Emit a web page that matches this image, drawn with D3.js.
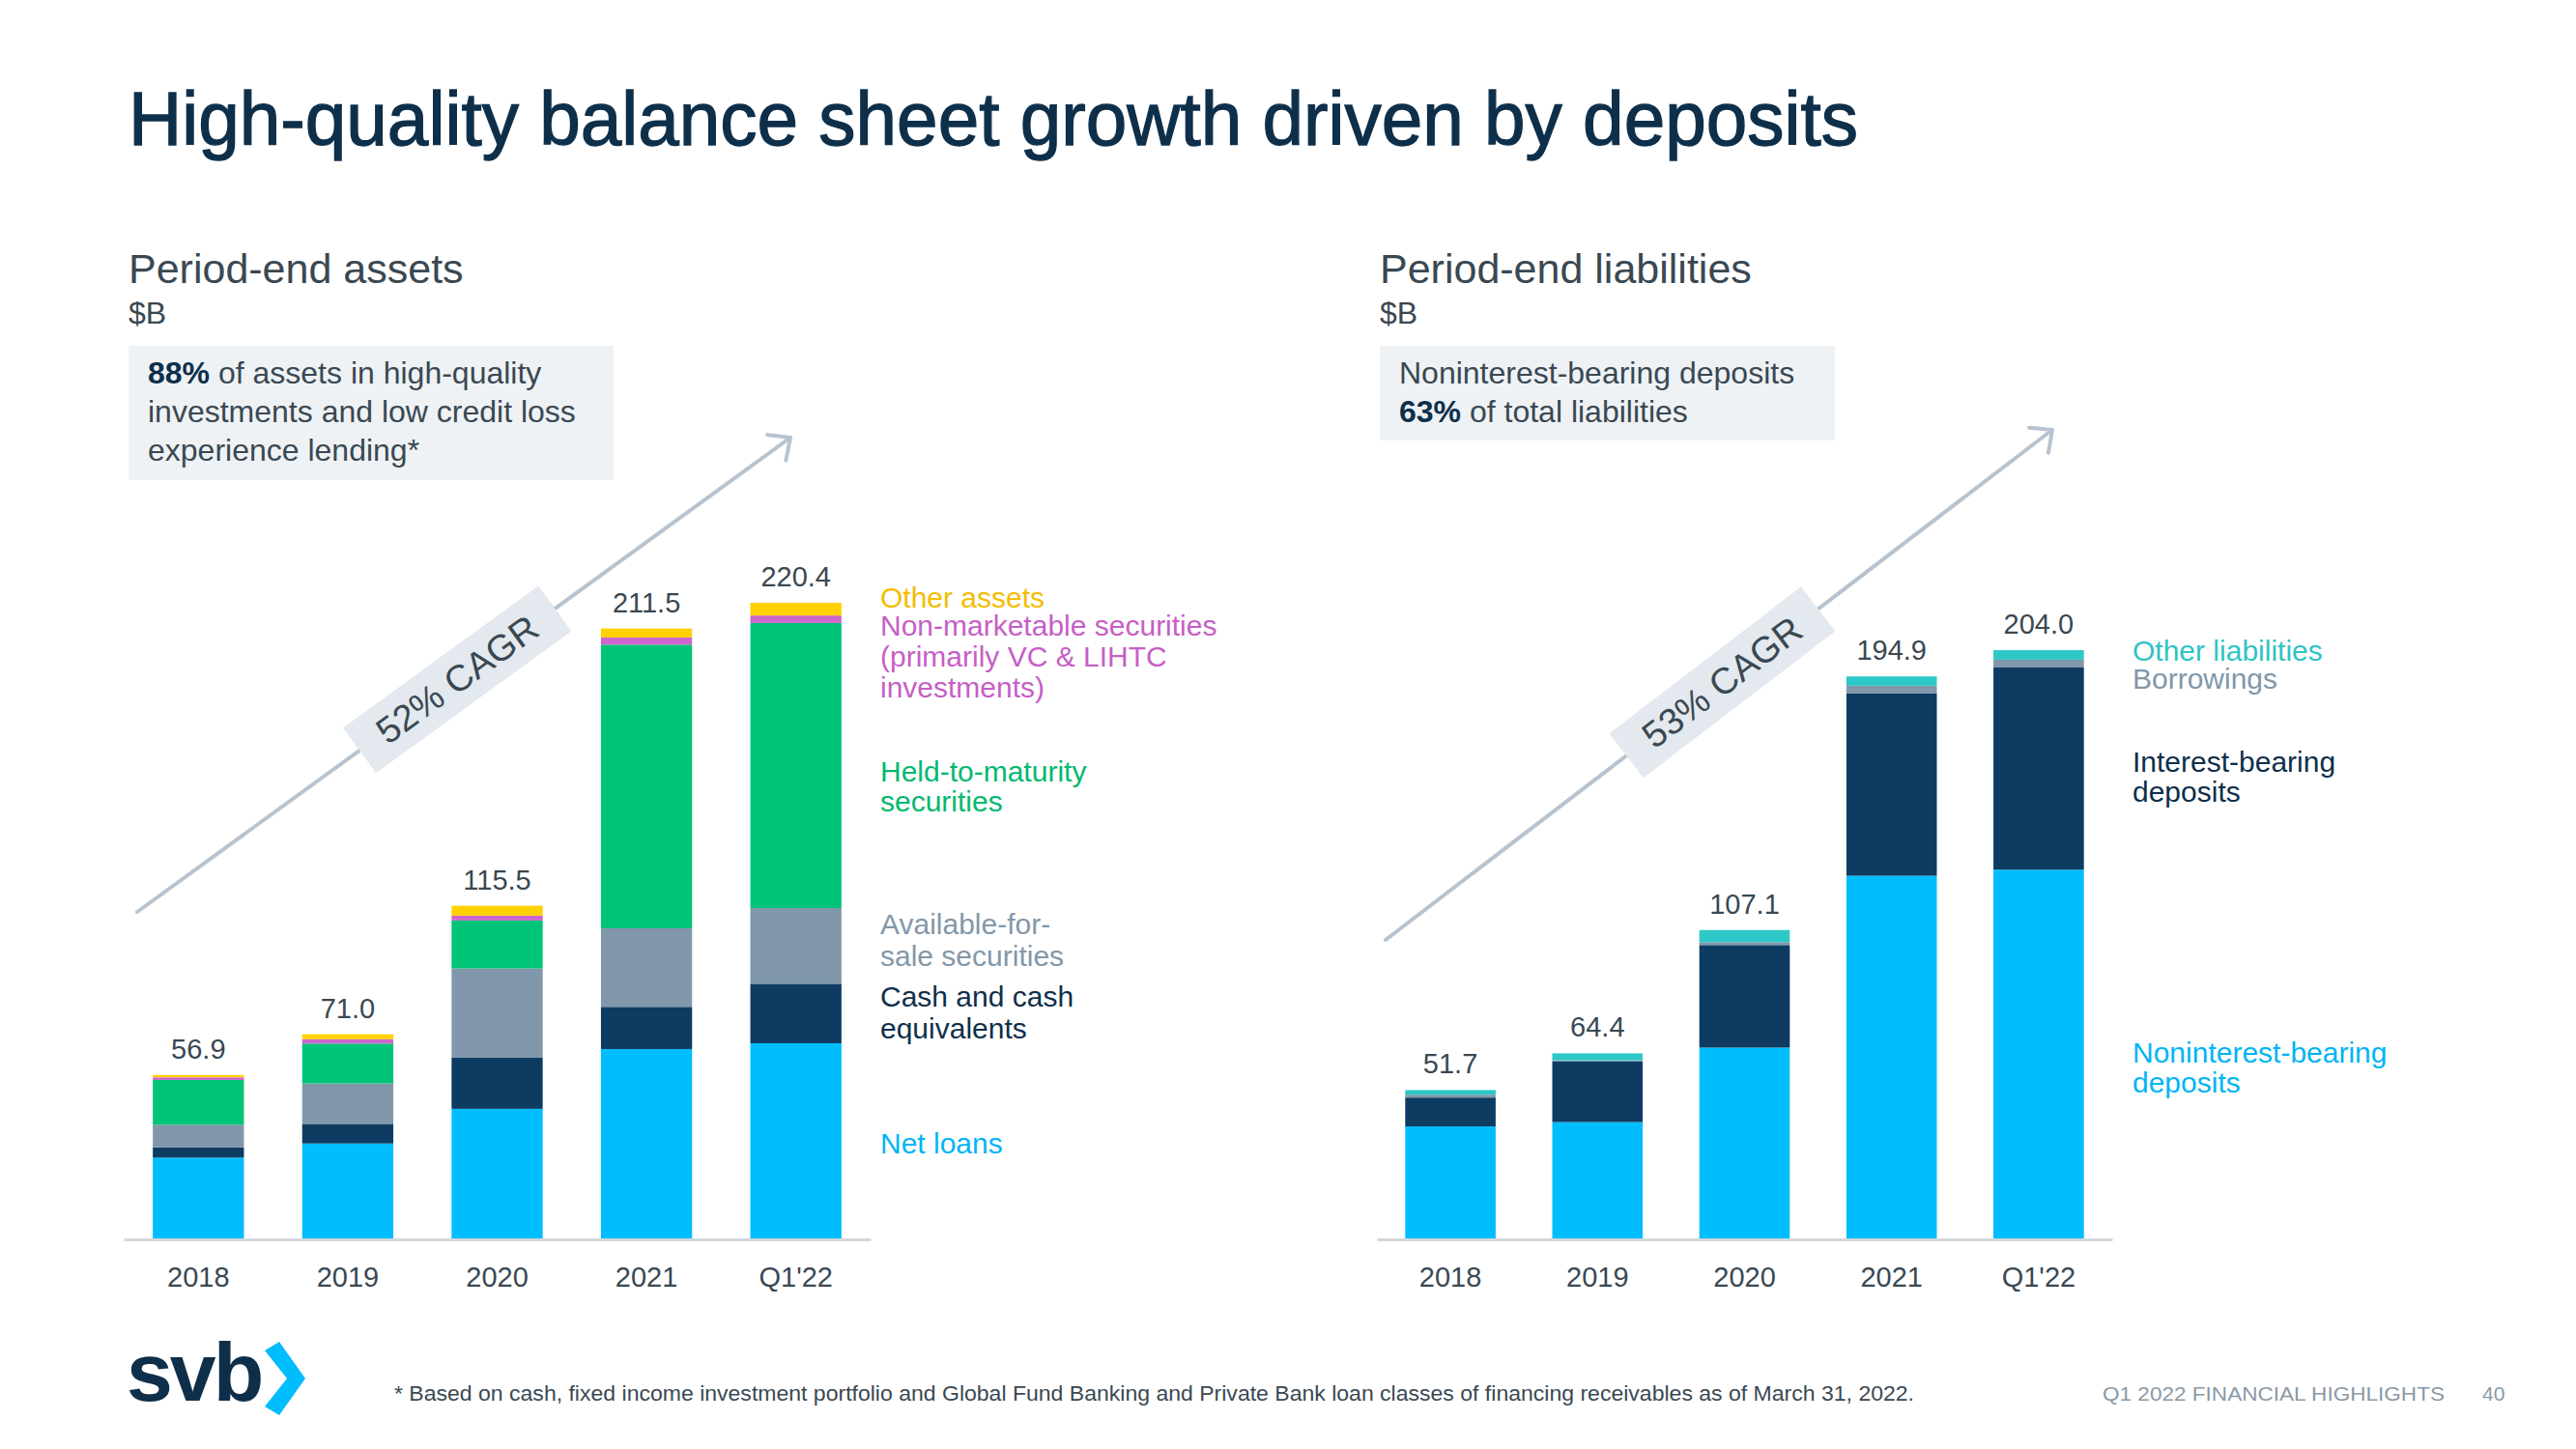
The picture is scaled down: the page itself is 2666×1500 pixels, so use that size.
<!DOCTYPE html>
<html>
<head>
<meta charset="utf-8">
<script src="https://cdn.jsdelivr.net/npm/d3@7"></script>
<style>
  html, body { margin: 0; padding: 0; background: #ffffff; }
  svg { display: block; font-family: "Liberation Sans", Arial, Helvetica, sans-serif; }
</style>
</head>
<body>
<svg id="chart" width="2666" height="1500"></svg>
<script>
// ---------------- DATA ----------------
const categories = ["2018", "2019", "2020", "2021", "Q1'22"];

// Period-end assets ($B), bottom to top
const netLoans       = [28.3, 33.2, 45.2, 65.9, 67.9];
const cashEquiv      = [3.6, 6.8, 17.7, 14.6, 20.6];
const afsSecurities  = [7.8, 14.0, 30.9, 27.2, 26.2];
const htmSecurities  = [15.5, 13.8, 16.6, 98.2, 98.7];
const nonMarketable  = [0.9, 1.5, 1.7, 2.5, 2.6];
const otherAssets    = [0.8, 1.7, 3.4, 3.1, 4.4];
const assetTotals    = ["56.9", "71.0", "115.5", "211.5", "220.4"];

// Period-end liabilities ($B), bottom to top
const nonIntDeposits = [39.1, 40.6, 66.4, 125.9, 128.0];
const intDeposits    = [10.0, 21.1, 35.5, 63.2, 70.0];
const borrowings     = [1.0, 0.3, 1.0, 2.6, 2.7];
const otherLiabs     = [1.6, 2.4, 4.2, 3.2, 3.3];
const liabTotals     = ["51.7", "64.4", "107.1", "194.9", "204.0"];

const assetKeys = ["netLoans", "cashEquiv", "afsSecurities", "htmSecurities", "nonMarketable", "otherAssets"];
const liabKeys  = ["nonIntDeposits", "intDeposits", "borrowings", "otherLiabs"];

const assetLegend = [
  { lines: ["Other assets"], color: "#f2bd00" },
  { lines: ["Non-marketable securities", "(primarily VC & LIHTC", "investments)"], color: "#c75ec6" },
  { lines: ["Held-to-maturity", "securities"], color: "#00b86f" },
  { lines: ["Available-for-", "sale securities"], color: "#8397a9" },
  { lines: ["Cash and cash", "equivalents"], color: "#0e2f4a" },
  { lines: ["Net loans"], color: "#00b4f5" }
];
const liabLegend = [
  { lines: ["Other liabilities"], color: "#2fc4c4" },
  { lines: ["Borrowings"], color: "#8397a9" },
  { lines: ["Interest-bearing", "deposits"], color: "#0e2f4a" },
  { lines: ["Noninterest-bearing", "deposits"], color: "#00b4f5" }
];

// ---------------- STYLE ----------------
const colors = {
  netLoans: "#00bdfd", cashEquiv: "#0e3b62", afsSecurities: "#8197ab",
  htmSecurities: "#00c478", nonMarketable: "#cc66cc", otherAssets: "#ffd100",
  nonIntDeposits: "#00bdfd", intDeposits: "#0e3b62", borrowings: "#8197ab", otherLiabs: "#2ec8c8"
};
const TEXT = "#3a4852";
const NAVY = "#0e2f4a";

const svg = d3.select("#chart");
svg.append("rect").attr("width", 2666).attr("height", 1500).attr("fill", "#fff");

function fit(sel, w) {
  sel.each(function () {
    const L = this.getComputedTextLength();
    if (Math.abs(L - w) / w > 0.01) {
      d3.select(this).attr("textLength", w).attr("lengthAdjust", "spacingAndGlyphs");
    }
  });
}

// ---------------- TITLE ----------------
svg.append("text").attr("x", 133).attr("y", 150)
  .attr("font-size", 78).attr("fill", NAVY)
  .attr("stroke", NAVY).attr("stroke-width", 1.3)
  .text("High-quality balance sheet growth driven by deposits")
  .call(fit, 1790);

// ---------------- PANEL HEADERS ----------------
function header(x, title, sub, boxW, boxH, lines, titleW) {
  svg.append("text").attr("x", x).attr("y", 293).attr("font-size", 43).attr("fill", TEXT)
    .text(title).call(fit, titleW);
  svg.append("text").attr("x", x).attr("y", 335).attr("font-size", 32).attr("fill", TEXT).text(sub);
  svg.append("rect").attr("x", x).attr("y", 358).attr("width", boxW).attr("height", boxH).attr("fill", "#eef2f5");
  lines.forEach((ln, i) => {
    const t = svg.append("text").attr("x", x + 20).attr("y", 397 + i * 40).attr("font-size", 32).attr("fill", TEXT);
    ln.forEach(seg => {
      t.append("tspan").attr("font-weight", seg.b ? "bold" : null).attr("fill", seg.b ? NAVY : TEXT).text(seg.t);
    });
  });
}
header(133, "Period-end assets", "$B", 502, 139, [
  [{ t: "88%", b: true }, { t: " of assets in high-quality" }],
  [{ t: "investments and low credit loss" }],
  [{ t: "experience lending*" }]
], 347);
header(1428, "Period-end liabilities", "$B", 471, 98, [
  [{ t: "Noninterest-bearing deposits" }],
  [{ t: "63%", b: true }, { t: " of total liabilities" }]
], 383);

// ---------------- CHARTS ----------------
const baseY = 1283;
const y = d3.scaleLinear().domain([0, 220.4]).range([baseY, 624]);

function drawPanel(opts) {
  const rows = categories.map((c, i) => {
    const r = { cat: c };
    opts.keys.forEach(k => r[k] = opts.series[k][i]);
    return r;
  });
  const x = d3.scaleBand().domain(categories).range(opts.range).paddingInner(opts.pad).paddingOuter(opts.pad / 2);
  const stacked = d3.stack().keys(opts.keys)(rows);

  const g = svg.append("g");
  g.selectAll("g.layer").data(stacked).join("g").attr("class", "layer")
    .attr("fill", d => colors[d.key])
    .selectAll("rect").data(d => d).join("rect")
    .attr("x", d => x(d.data.cat))
    .attr("width", x.bandwidth())
    .attr("y", d => y(d[1]))
    .attr("height", d => Math.max(0, y(d[0]) - y(d[1])));

  // totals
  const top = stacked[stacked.length - 1];
  g.selectAll("text.total").data(top).join("text").attr("class", "total")
    .attr("x", d => x(d.data.cat) + x.bandwidth() / 2)
    .attr("y", d => y(d[1]) - 17)
    .attr("text-anchor", "middle").attr("font-size", 29).attr("fill", TEXT)
    .text((d, i) => opts.totals[i]);

  // axis
  const ax = svg.append("g").attr("transform", `translate(0,${baseY})`)
    .call(d3.axisBottom(x).tickSize(0).tickSizeOuter(0).tickPadding(28));
  ax.select(".domain").attr("stroke", "#d3d8dd").attr("stroke-width", 3);
  ax.selectAll("text").attr("font-size", 29).attr("fill", TEXT)
    .attr("font-family", "'Liberation Sans', Arial, sans-serif");

  // legend
  opts.legendY.forEach((yy, i) => {
    const item = opts.legend[i];
    const t = svg.append("text").attr("x", opts.legendX).attr("font-size", 30).attr("fill", item.color);
    item.lines.forEach((ln, j) => t.append("tspan").attr("x", opts.legendX).attr("y", yy + j * opts.lh[i]).text(ln));
  });

  // CAGR arrow
  const [x0, y0] = opts.arrow[0], [x1, y1] = opts.arrow[1];
  const ang = Math.atan2(y1 - y0, x1 - x0);
  const ag = svg.append("g").attr("stroke", "#b7c3ce").attr("stroke-width", 4).attr("fill", "none").attr("stroke-linecap", "round");
  ag.append("line").attr("x1", x0).attr("y1", y0).attr("x2", x1).attr("y2", y1);
  const hl = 24, ha = Math.PI / 4.2;
  ag.append("polyline").attr("stroke-linejoin", "round").attr("points", [
    [x1 - hl * Math.cos(ang - ha), y1 - hl * Math.sin(ang - ha)],
    [x1, y1],
    [x1 - hl * Math.cos(ang + ha), y1 - hl * Math.sin(ang + ha)]
  ].map(p => p.join(",")).join(" "));
  const t = opts.arrowT;
  const cx = x0 + (x1 - x0) * t, cy = y0 + (y1 - y0) * t;
  const lg = svg.append("g").attr("transform", `translate(${cx},${cy}) rotate(${ang * 180 / Math.PI})`);
  lg.append("rect").attr("x", -125).attr("y", -29).attr("width", 250).attr("height", 58).attr("fill", "#e3e9ee");
  lg.append("text").attr("x", 0).attr("y", 13).attr("text-anchor", "middle")
    .attr("font-size", 38).attr("fill", TEXT).text(opts.cagr);
}

drawPanel({
  keys: assetKeys,
  series: { netLoans, cashEquiv, afsSecurities, htmSecurities, nonMarketable, otherAssets },
  totals: assetTotals,
  range: [128, 901], pad: 0.39,
  legend: assetLegend, legendX: 911,
  legendY: [629, 658, 809, 967, 1042, 1194],
  lh: [31, 32, 31, 33, 33, 31],
  arrow: [[142, 944], [818, 453]], arrowT: 0.49, cagr: "52% CAGR"
});
drawPanel({
  keys: liabKeys,
  series: { nonIntDeposits, intDeposits, borrowings, otherLiabs },
  totals: liabTotals,
  range: [1425, 2186], pad: 0.385,
  legend: liabLegend, legendX: 2207,
  legendY: [684, 713, 799, 1100],
  lh: [31, 31, 31, 31],
  arrow: [[1434, 973], [2124, 445]], arrowT: 0.505, cagr: "53% CAGR"
});

// ---------------- FOOTER ----------------
svg.append("text").attr("x", 131).attr("y", 1450).attr("font-size", 86).attr("font-weight", "bold")
  .attr("fill", NAVY).attr("letter-spacing", -3).text("svb");
svg.append("polygon").attr("fill", "#00bdfd")
  .attr("points", "274,1398 289,1389 316,1427 289,1465 274,1456 297,1427");

svg.append("text").attr("x", 408).attr("y", 1450).attr("font-size", 22).attr("fill", TEXT)
  .text("* Based on cash, fixed income investment portfolio and Global Fund Banking and Private Bank loan classes of financing receivables as of March 31, 2022.")
  .call(fit, 1573);
svg.append("text").attr("x", 2176).attr("y", 1450).attr("font-size", 21).attr("fill", "#8a99a6")
  .text("Q1 2022 FINANCIAL HIGHLIGHTS").call(fit, 354);
svg.append("text").attr("x", 2569).attr("y", 1450).attr("font-size", 21).attr("fill", "#8a99a6").text("40");
</script>
</body>
</html>
